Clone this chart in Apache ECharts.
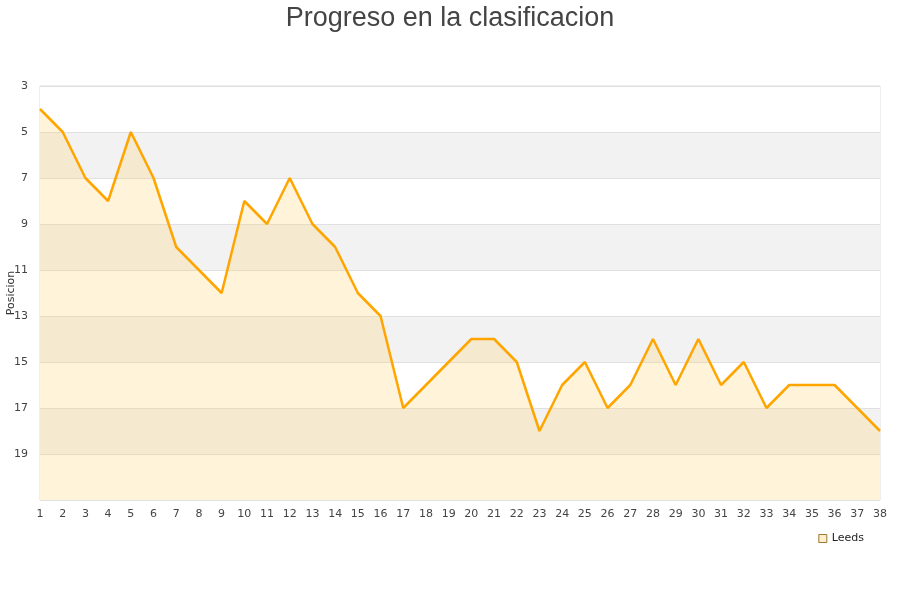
<!DOCTYPE html>
<html><head><meta charset="utf-8">
<script src="https://cdn.jsdelivr.net/npm/echarts@6/dist/echarts.min.js"></script>
<style>html,body{margin:0;padding:0;background:#fff}#c{width:900px;height:600px}</style>
</head><body><div id="c"></div>
<script>
const jornadas = ['1','2','3','4','5','6','7','8','9','10','11','12','13','14','15','16','17','18','19','20','21','22','23','24','25','26','27','28','29','30','31','32','33','34','35','36','37','38'];
const leeds = [4,5,7,8,5,7,10,11,12,8,9,7,9,10,12,13,17,16,15,14,14,15,18,16,15,17,16,14,16,14,16,15,17,16,16,16,17,18];
const yTitle = 'Posicion';
const chart = echarts.init(document.getElementById('c'));
chart.setOption({
  animation: false,
  title: { text: 'Progreso en la clasificacion', left: 'center', top: 0,
    textStyle: { fontFamily: 'Liberation Sans, Arial', fontSize: 27, fontWeight: 'normal', color: '#444' } },
  grid: { left: 40, right: 20, top: 86, bottom: 100, show: true, borderColor: '#ddd', borderWidth: 1,
    containLabel: false, outerBoundsMode: 'none' },
  legend: { data: ['Leeds'], right: 31, top: 528, icon: 'rect', itemWidth: 8, itemHeight: 8,
    itemStyle: { color: '#ffeecc', borderColor: '#997a33', borderWidth: 1 },
    textStyle: { fontFamily: 'DejaVu Sans', fontSize: 11, color: '#222' } },
  graphic: [{ type: 'text', x: 11, y: 293, rotation: Math.PI / 2,
    style: { text: yTitle, fill: '#333', font: '11px DejaVu Sans', align: 'center', verticalAlign: 'middle' } }],
  xAxis: { type: 'category', data: jornadas, boundaryGap: false,
    axisLine: { show: false }, axisTick: { show: false },
    axisLabel: { color: '#444', fontFamily: 'DejaVu Sans', fontSize: 11, margin: 9, interval: 0 },
    splitLine: { show: false } },
  yAxis: { type: 'value', inverse: true, min: 3, max: 21, interval: 2,
    axisLine: { show: false }, axisTick: { show: false },
    axisLabel: { color: '#444', fontFamily: 'DejaVu Sans', fontSize: 11, margin: 12,
      formatter: v => v === 21 ? '' : String(v) },
    splitLine: { show: true, lineStyle: { color: '#e0e0e0', width: 1 } },
    splitArea: { show: true, areaStyle: { color: ['#ffffff', '#f2f2f2'] } } },
  series: [{ name: 'Leeds', type: 'line', data: leeds, showSymbol: false, symbol: 'none',
    lineStyle: { color: '#ffa500', width: 2.5 },
    itemStyle: { color: '#ffa500' },
    areaStyle: { color: 'rgba(255,204,102,0.35)', origin: 'end' } }]
});
</script></body></html>
